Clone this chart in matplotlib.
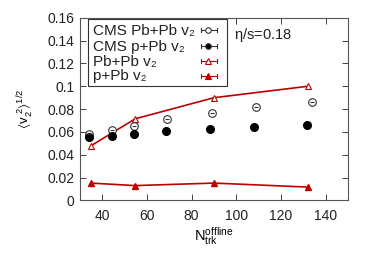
import matplotlib
matplotlib.use("Agg")
import matplotlib.pyplot as plt
from matplotlib.patches import Rectangle

plt.rcParams['font.family'] = ['Liberation Sans', 'DejaVu Sans']
plt.rcParams['mathtext.default'] = 'regular'
plt.rcParams['font.size'] = 10

# CMS Pb+Pb data (open circles)
cms_pbpb_x = [34.0, 44.2, 54.4, 69.0, 89.0, 109.0, 134.0]
cms_pbpb_y = [0.058, 0.0618, 0.0648, 0.0715, 0.0768, 0.0818, 0.0861]
# CMS p+Pb data (filled circles)
cms_ppb_x = [34.0, 44.2, 54.3, 68.4, 88.3, 108.0, 131.6]
cms_ppb_y = [0.0555, 0.0563, 0.058, 0.0604, 0.063, 0.064, 0.0663]
# Model Pb+Pb (open triangles)
mod_pbpb_x = [35.0, 54.7, 90.0, 132.0]
mod_pbpb_y = [0.048, 0.0715, 0.090, 0.100]
# Model p+Pb (filled triangles)
mod_ppb_x = [35.0, 54.7, 90.0, 132.0]
mod_ppb_y = [0.0152, 0.013, 0.0152, 0.0117]

labels = ['CMS Pb+Pb v\u2082', 'CMS p+Pb v\u2082', 'Pb+Pb v\u2082', 'p+Pb v\u2082']

red = '#c00000'
dark = '#222222'

fig = plt.figure(figsize=(3.74, 2.62), dpi=100)
ax = fig.add_axes([0.214, 0.235, 0.716, 0.697])

ax.plot(mod_pbpb_x, mod_pbpb_y, '-', color=red, lw=1.2, marker='^', mfc='white', mec=red, ms=5, mew=0.8, zorder=3)
ax.plot(mod_ppb_x, mod_ppb_y, '-', color=red, lw=1.2, marker='^', mfc=red, mec=red, ms=5, zorder=3)
ax.plot(cms_pbpb_x, cms_pbpb_y, 'o', mfc='white', mec='#333333', ms=5.5, mew=0.8, zorder=4)
ax.plot(cms_pbpb_x, cms_pbpb_y, '_', color='#333333', ms=3, mew=0.8, zorder=5)
ax.plot(cms_ppb_x, cms_ppb_y, 'o', mfc='black', mec='black', ms=5.5, zorder=4)

ax.set_xlim(30, 150)
ax.set_ylim(0, 0.16)
ax.set_xticks([40, 60, 80, 100, 120, 140])
ax.set_yticks([0, 0.02, 0.04, 0.06, 0.08, 0.1, 0.12, 0.14, 0.16])
ax.set_yticklabels(['0', '0.02', '0.04', '0.06', '0.08', '0.1', '0.12', '0.14', '0.16'])
ax.tick_params(direction='in', top=True, right=True, length=4, width=0.6, labelsize=10, colors=dark, pad=4)
ax.tick_params(axis='x', pad=6)
for s in ax.spines.values():
    s.set_linewidth(0.8)
    s.set_color('#555555')

ax.set_xlabel(r'$N_{trk}^{offline}$', fontsize=10.5, labelpad=2)
ax.set_ylabel(r'$\langle v_2^{\ 2}\rangle^{1/2}$', fontsize=9.5, labelpad=8)

ax.text(0.575, 0.905, r'$\eta$/s=0.18', transform=ax.transAxes, fontsize=10.5, va='center', color=dark)

# manual legend: labels left-aligned, keys on the right
tr = ax.transAxes
ax.add_patch(Rectangle((0.031, 0.626), 0.516, 0.367, transform=tr, fill=True, facecolor='white',
                       edgecolor='#333333', lw=0.8, zorder=6))
text_rows = [0.905, 0.819, 0.737, 0.659]
key_rows = [0.933, 0.847, 0.765, 0.681]
styles = [('#333333', 'o', 'white'), ('#333333', 'o', 'black'), (red, '^', 'white'), (red, '^', red)]
for yt, yr, lab, (c, m, fc) in zip(text_rows, key_rows, labels, styles):
    ax.text(0.047, yt, lab, transform=tr, fontsize=11, va='baseline', ha='left', color=dark, zorder=7,
            family=['Liberation Sans', 'DejaVu Sans'])
    ax.plot([0.450, 0.510], [yr, yr], transform=tr, color=c, lw=0.8, zorder=7, clip_on=False)
    for xc in (0.450, 0.510):
        ax.plot([xc, xc], [yr - 0.012, yr + 0.012], transform=tr, color=c, lw=0.8, zorder=7, clip_on=False)
    ax.plot([0.4765], [yr], transform=tr, marker=m, mfc=fc, mec=c, ms=4, mew=0.8, zorder=8, clip_on=False)

fig.savefig('out.png', dpi=100)
